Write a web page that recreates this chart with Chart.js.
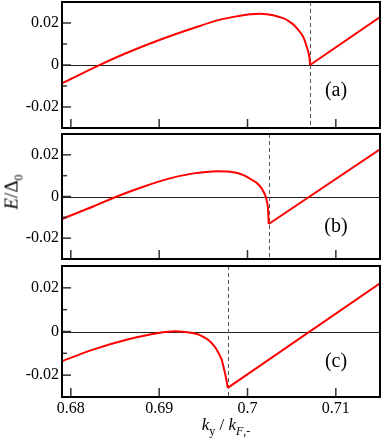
<!DOCTYPE html>
<html><head><meta charset="utf-8">
<script src="https://cdn.jsdelivr.net/npm/chart.js@4"></script>
<style>
html,body{margin:0;padding:0;background:#fff;}
#wrap{position:relative;width:382px;height:439px;overflow:hidden;font-family:"Liberation Serif","Times New Roman",serif;color:#000;}
canvas{position:absolute;left:0;}
.lbl{position:absolute;transform:translate(-50%,-50%);font-size:20px;line-height:1;white-space:nowrap;}
.sb{font-size:12px;position:relative;top:5px;}
#ytitle{position:absolute;left:11px;top:192px;transform:translate(-50%,-50%) rotate(-90deg);font-size:19px;line-height:1;white-space:nowrap;}
#xtitle{position:absolute;left:226px;top:424px;transform:translate(-50%,-50%);font-size:17px;line-height:1;white-space:nowrap;}
</style></head><body>
<div id="wrap">
<canvas id="cA" width="382" height="130" style="top:0px"></canvas>
<canvas id="cB" width="382" height="129" style="top:132px"></canvas>
<canvas id="cC" width="382" height="176" style="top:263px"></canvas>
<div class="lbl" id="lA" style="left:336px;top:89px"></div>
<div class="lbl" id="lB" style="left:336px;top:225px"></div>
<div class="lbl" id="lC" style="left:336px;top:360px"></div>
<div id="ytitle"><i>E</i>/Δ<span class="sb">0</span></div>
<div id="xtitle"><i>k</i><span class="sb">y</span> / <i>k</i><span class="sb"><i>F</i>,-</span></div>
</div>
<script>
const xTickValues = [0.68, 0.69, 0.70, 0.71];
const xTickLabels = ['0.68', '0.69', '0.7', '0.71'];
const yTickValues = [-0.02, 0, 0.02];
const yTickLabels = ['-0.02', '0', '0.02'];
const yMinorTicks = [-0.01, 0.01];
const panelNames = ['(a)', '(b)', '(c)'];
const criticalK = [0.70708, 0.70240, 0.69776];

const kLeftA = [0.6790, 0.6833, 0.6863, 0.6901, 0.6939, 0.6969, 0.6992, 0.7003, 0.7014, 0.7022, 0.7029, 0.7035, 0.7041, 0.7048, 0.7052, 0.7057, 0.70615, 0.70645, 0.70664, 0.7068, 0.7069, 0.70698, 0.70704, 0.70708];
const eLeftA = [-0.0087, 0.0001, 0.0057, 0.0120, 0.0176, 0.0216, 0.0235, 0.0242, 0.0244, 0.0242, 0.0237, 0.0230, 0.0222, 0.0205, 0.0193, 0.0170, 0.0145, 0.0120, 0.0095, 0.0075, 0.0060, 0.0044, 0.0026, 0.0];
const kRightA = [0.70708, 0.7150];
const eRightA = [0.0, 0.0228];

const kLeftB = [0.6790, 0.6826, 0.6852, 0.6882, 0.6912, 0.6939, 0.6953, 0.6966, 0.6977, 0.6984, 0.6992, 0.6999, 0.7006, 0.7011, 0.7015, 0.7018, 0.7020, 0.7022, 0.7023, 0.70235, 0.7024];
const eLeftB = [-0.0108, -0.0047, 0.0, 0.0047, 0.0087, 0.0111, 0.0118, 0.0121, 0.0120, 0.0116, 0.0108, 0.0095, 0.0077, 0.0063, 0.0045, 0.0024, 0.0006, -0.0024, -0.0050, -0.0080, -0.0132];
const kRightB = [0.7024, 0.7150];
const eRightB = [-0.0132, 0.0226];

const kLeftC = [0.6790, 0.6826, 0.6863, 0.6901, 0.6918, 0.6929, 0.6939, 0.6945, 0.6950, 0.6956, 0.6961, 0.6965, 0.6968, 0.6971, 0.6973, 0.6975, 0.69765, 0.69776];
const eLeftC = [-0.0136, -0.0082, -0.0038, -0.0006, 0.0001, -0.0002, -0.0008, -0.0014, -0.0025, -0.0040, -0.0060, -0.0082, -0.0105, -0.0132, -0.0165, -0.0199, -0.0230, -0.0258];
const kRightC = [0.69776, 0.7150];
const eRightC = [-0.0258, 0.0221];

document.getElementById('lA').textContent = panelNames[0];
document.getElementById('lB').textContent = panelNames[1];
document.getElementById('lC').textContent = panelNames[2];

const SERIF = '"Liberation Serif", "Times New Roman", serif';
Chart.defaults.font.family = SERIF;
Chart.defaults.color = '#000';

const panelAxes = {
  id: 'panelAxes',
  beforeDatasetsDraw(chart, args, o) {
    const {ctx, chartArea: a, scales: {x, y}} = chart;
    ctx.save();
    ctx.beginPath(); ctx.rect(a.left, a.top, a.right - a.left, a.bottom - a.top); ctx.clip();
    const y0 = Math.round(y.getPixelForValue(0)) + 0.5;
    ctx.strokeStyle = '#222'; ctx.lineWidth = 1;
    ctx.beginPath(); ctx.moveTo(a.left, y0); ctx.lineTo(a.right, y0); ctx.stroke();
    const xc = Math.round(x.getPixelForValue(o.kc)) + 0.5;
    ctx.strokeStyle = '#555'; ctx.setLineDash([4, 3]);
    ctx.beginPath(); ctx.moveTo(xc, a.top); ctx.lineTo(xc, a.bottom); ctx.stroke();
    ctx.restore();
  },
  afterDraw(chart) {
    const {ctx, chartArea: a, scales: {x, y}} = chart;
    ctx.save();
    ctx.strokeStyle = '#333'; ctx.lineWidth = 1.5;
    const seg = (x1, y1, x2, y2) => { ctx.beginPath(); ctx.moveTo(x1, y1); ctx.lineTo(x2, y2); ctx.stroke(); };
    yTickValues.forEach(v => { const p = y.getPixelForValue(v); seg(a.left, p, a.left + 9, p); });
    yMinorTicks.forEach(v => { const p = y.getPixelForValue(v); seg(a.left, p, a.left + 5, p); });
    xTickValues.forEach(v => { const p = x.getPixelForValue(v); seg(p, a.bottom, p, a.bottom - 9); });
    ctx.strokeStyle = '#000'; ctx.lineWidth = 2;
    ctx.strokeRect(a.left, a.top, a.right - a.left, a.bottom - a.top);
    ctx.restore();
  }
};

function pts(ks, es) { return ks.map((k, i) => ({x: k, y: es[i]})); }

function makePanel(id, kL, eL, kR, eR, kc, padTop, xHeight, showX) {
  new Chart(document.getElementById(id), {
    type: 'line',
    data: {
      datasets: [
        {data: pts(kL, eL), borderColor: '#ff0000', borderWidth: 2, pointRadius: 0, fill: false, cubicInterpolationMode: 'monotone'},
        {data: pts(kR, eR), borderColor: '#ff0000', borderWidth: 2, pointRadius: 0, fill: false}
      ]
    },
    options: {
      responsive: false,
      devicePixelRatio: 1,
      animation: false,
      events: [],
      layout: {padding: {top: padTop, right: 2, left: 0, bottom: 0}},
      plugins: {legend: {display: false}, tooltip: {enabled: false}, panelAxes: {kc: kc}},
      scales: {
        x: {
          type: 'linear', min: 0.679, max: 0.715,
          afterBuildTicks: s => { s.ticks = xTickValues.map(v => ({value: v})); },
          afterFit: s => { s.height = xHeight; s.paddingLeft = 0; s.paddingRight = 0; s.paddingTop = 0; s.paddingBottom = 0; },
          grid: {display: false, drawTicks: false},
          border: {display: false},
          ticks: {display: showX, padding: 2, maxRotation: 0, autoSkip: false, font: {size: 16, family: SERIF},
                  callback: v => xTickLabels[xTickValues.indexOf(v)]}
        },
        y: {
          type: 'linear', min: -0.03, max: 0.03,
          afterBuildTicks: s => { s.ticks = yTickValues.map(v => ({value: v})); },
          afterFit: s => { s.width = 62; s.paddingTop = 0; s.paddingBottom = 0; s.paddingLeft = 0; s.paddingRight = 0; },
          grid: {display: false, drawTicks: false},
          border: {display: false},
          ticks: {padding: 3, font: {size: 16, family: SERIF}, callback: v => yTickLabels[yTickValues.indexOf(v)]}
        }
      }
    },
    plugins: [panelAxes]
  });
}

makePanel('cA', kLeftA, eLeftA, kRightA, eRightA, criticalK[0], 2, 2, false);
makePanel('cB', kLeftB, eLeftB, kRightB, eRightB, criticalK[1], 2, 2, false);
makePanel('cC', kLeftC, eLeftC, kRightC, eRightC, criticalK[2], 3, 42, true);
</script>
</body></html>
